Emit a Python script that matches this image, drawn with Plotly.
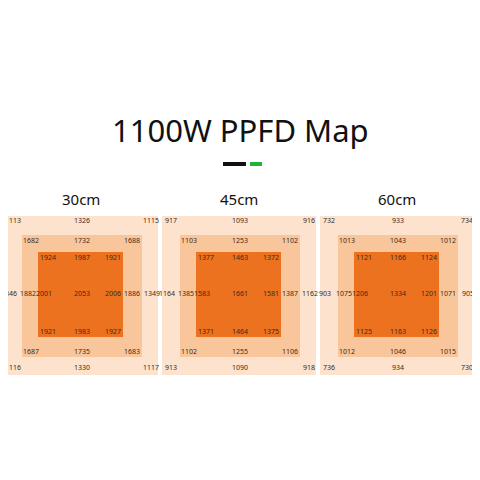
import plotly.graph_objects as go

TITLE = "1100W PPFD Map"
heights = ["30cm", "45cm", "60cm"]
# 25 readings per map: outer top row, middle top row, inner top, centre row, inner bottom, middle bottom, outer bottom
ppfd_30 = [1113, 1326, 1115, 1682, 1732, 1688, 1924, 1987, 1921,
           1346, 1882, 2001, 2053, 2006, 1886, 1349,
           1921, 1983, 1927, 1687, 1735, 1683, 1116, 1330, 1117]
ppfd_45 = [917, 1093, 916, 1103, 1253, 1102, 1377, 1463, 1372,
           1164, 1385, 1583, 1661, 1581, 1387, 1162,
           1371, 1464, 1375, 1102, 1255, 1106, 913, 1090, 918]
ppfd_60 = [732, 933, 734, 1013, 1043, 1012, 1121, 1166, 1124,
           903, 1075, 1206, 1334, 1201, 1071, 905,
           1125, 1163, 1126, 1012, 1046, 1015, 736, 934, 730]
maps = [ppfd_30, ppfd_45, ppfd_60]

# local layout of the reading labels inside one panel (pixels)
XS = [13, 82, 151, 31, 82, 132, 48, 82, 113,
      9, 28, 44, 82, 113, 132, 152,
      48, 82, 113, 31, 82, 132, 13, 82, 151]
YS = [221, 221, 221, 241, 241, 241, 258, 258, 258,
      294, 294, 294, 294, 294, 294, 294,
      332, 332, 332, 352, 352, 352, 368, 368, 368]
offsets = [0, 158, 316]

fig = go.Figure()
for off, vals, h in zip(offsets, maps, heights):
    fig.add_shape(type="rect", x0=off + 4, x1=off + 158, y0=216, y1=375,
                  fillcolor="#fde3cd", line_width=0, layer="below")
    fig.add_shape(type="rect", x0=off + 22, x1=off + 142, y0=235, y1=357,
                  fillcolor="#f9c69c", line_width=0, layer="below")
    fig.add_shape(type="rect", x0=off + 38, x1=off + 123, y0=252, y1=337,
                  fillcolor="#ec721f", line_width=0, layer="below")
    fig.add_trace(go.Scatter(
        x=[off + x for x in XS], y=YS, mode="text", text=[str(v) for v in vals],
        textfont=dict(size=7, color="#3a2a20", family="Noto Sans"),
        hoverinfo="skip", showlegend=False, cliponaxis=False))
    fig.add_annotation(x=off + 81, y=199, text=h, showarrow=False,
                       font=dict(size=15, color="#111", family="Noto Sans"))

fig.add_annotation(x=240, y=130, text=TITLE, showarrow=False,
                   font=dict(size=31, color="#111", family="Noto Sans"))
fig.add_shape(type="rect", x0=223, x1=246, y0=162, y1=166, fillcolor="#111", line_width=0)
fig.add_shape(type="rect", x0=250, x1=262, y0=162, y1=166, fillcolor="#22b33a", line_width=0)

# page body adds an 8px margin, so view the pixel grid shifted by 8
fig.update_layout(
    width=480, height=480, margin=dict(l=0, r=0, t=0, b=0),
    paper_bgcolor="white", plot_bgcolor="white",
    xaxis=dict(range=[8, 488], visible=False, fixedrange=True),
    yaxis=dict(range=[488, 8], visible=False, fixedrange=True),
)
fig.write_html("out.html")
